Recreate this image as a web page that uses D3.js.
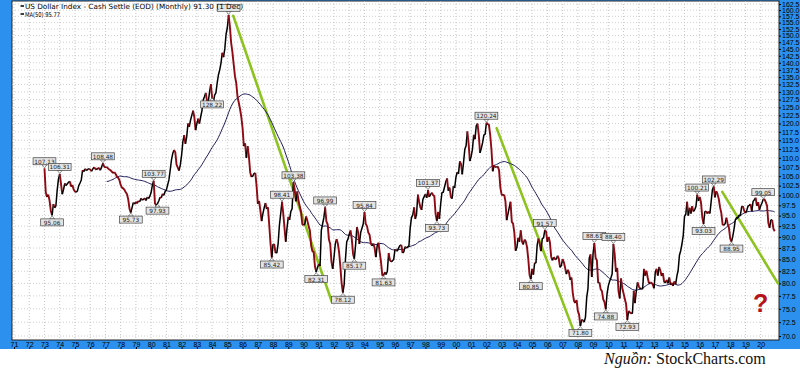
<!DOCTYPE html>
<html>
<head>
<meta charset="utf-8">
<script src="https://cdn.jsdelivr.net/npm/d3@7/dist/d3.min.js"></script>
<style>
body { margin: 0; background: #fff; }
svg { display: block; font-family: "DejaVu Sans", Verdana, sans-serif; }
</style>
</head>
<body>
<svg id="chart" width="800" height="370"></svg>
<script>
// monthly closes, first value = Jan 1973
var firstYear = 1973;
var dxy70s = [
  107.13, 100.8, 99.6, 100.2, 98.7, 96.2, 95.06, 97.8, 96.9, 97.4, 101.3, 104.2,
  105.6, 103.0, 100.3, 101.5, 103.1, 102.5, 103.0, 103.4, 103.6, 102.3, 102.7, 101.5,
  101.0, 100.8, 101.2, 102.5, 103.2, 104.0, 106.6, 106.2, 107.0, 106.5, 106.8, 107.0,
  106.8, 106.3, 106.9, 107.4, 107.0, 106.7, 107.2, 107.1, 106.6, 107.5, 108.48, 107.6,
  107.3, 107.5, 107.1, 106.8, 106.6, 106.2, 105.8, 106.1, 105.6, 104.9, 104.6, 104.0,
  102.7, 102.0, 101.8, 101.4, 100.8, 100.3, 98.9, 96.6, 95.73, 97.0, 98.2, 97.8,
  98.4, 98.0, 98.6, 98.4, 99.3, 98.8, 99.0, 99.3, 98.7, 99.6, 99.2, 99.8
];
var dxy80s = [
  100.8, 102.7, 103.77, 98.0, 97.5, 97.93, 98.6, 99.5, 99.4, 100.4, 100.0, 101.0,
  101.4, 102.7, 104.0, 106.6, 109.4, 111.2, 112.2, 111.6, 108.1, 107.3, 106.5, 108.1,
  110.8, 114.7, 116.5, 114.0, 116.0, 120.0, 119.0, 121.0, 122.5, 124.0, 122.0, 118.0,
  120.0, 121.5, 120.0, 122.0, 124.0, 127.4, 128.5, 129.7, 127.0, 126.9, 130.0, 132.6,
  128.22, 126.5, 129.0, 129.7, 133.0, 135.8, 137.5, 139.9, 143.6, 142.0, 145.0, 150.5,
  153.0, 158.1, 153.5, 147.2, 143.8, 139.4, 135.3, 133.0, 128.5, 126.5, 124.5, 122.0,
  118.6, 113.3, 114.1, 110.0, 113.3, 110.3, 106.0, 104.8, 105.0, 105.7, 105.9, 102.5,
  97.9, 98.6, 96.3, 93.7, 95.5, 96.9, 98.1, 96.6, 97.0, 92.7, 88.5, 85.42,
  88.4, 88.2, 86.4, 86.5, 88.5, 92.7, 95.4, 98.41, 95.6, 92.1, 88.9, 92.1,
  94.7, 94.0, 96.0, 96.7, 103.38, 101.6, 98.5, 101.0, 98.7, 97.3, 96.0, 93.0
];
var dxy90s = [
  92.7, 93.0, 94.8, 93.8, 92.5, 91.5, 88.0, 86.8, 86.6, 83.5, 82.31, 83.3,
  84.0, 83.6, 91.5, 93.0, 94.5, 96.99, 93.6, 92.9, 89.4, 88.4, 84.5, 83.0,
  85.5, 88.4, 89.5, 88.5, 86.6, 83.5, 80.0, 78.12, 79.8, 85.0, 88.9, 89.5,
  90.6, 91.5, 89.5, 86.2, 85.17, 88.2, 92.3, 91.0, 88.4, 91.0, 92.0, 93.0,
  95.84, 93.0, 92.5, 91.0, 90.5, 88.5, 88.0, 88.5, 87.5, 85.5, 88.0, 88.7,
  86.5, 84.5, 81.7, 81.63, 82.3, 81.8, 82.5, 86.4, 84.9, 84.5, 84.7, 85.0,
  87.2, 86.9, 86.9, 87.6, 88.1, 88.2, 86.4, 86.7, 87.8, 87.5, 87.7, 88.0,
  92.1, 94.5, 95.1, 97.0, 94.2, 95.4, 100.2, 98.4, 97.0, 96.4, 99.0, 99.7,
  100.3, 99.4, 101.37, 99.6, 100.2, 100.7, 100.1, 99.8, 95.4, 93.73, 95.9, 94.2,
  97.9, 100.7, 100.8, 102.1, 103.5, 104.4, 101.2, 102.0, 99.6, 99.2, 102.4, 101.9
];
var dxy00s = [
  104.7, 106.1, 105.6, 109.0, 108.3, 105.5, 108.7, 112.4, 113.4, 117.6, 114.0, 109.1,
  110.4, 112.4, 116.6, 115.3, 119.3, 120.0, 116.5, 111.4, 112.7, 114.3, 116.5, 116.8,
  120.24, 119.8, 119.6, 116.5, 112.2, 106.3, 107.8, 107.5, 107.4, 107.6, 106.5, 102.0,
  100.2, 100.0, 100.2, 98.5, 93.9, 95.4, 97.0, 98.4, 93.5, 93.1, 91.0, 86.9,
  87.6, 89.8, 88.9, 91.5, 89.0, 88.3, 89.4, 89.0, 87.7, 85.0, 81.7, 80.85,
  83.0, 81.8, 84.3, 84.2, 88.2, 89.6, 88.4, 86.8, 89.6, 89.8, 91.57, 91.2,
  88.9, 90.0, 88.8, 85.6, 84.8, 85.5, 85.1, 85.0, 85.8, 85.2, 83.3, 83.7,
  85.1, 84.4, 83.2, 81.9, 82.8, 82.3, 80.7, 81.2, 78.1, 76.5, 76.1, 76.7,
  74.6, 73.9, 71.80, 72.9, 72.9, 72.5, 73.4, 77.2, 79.0, 85.3, 86.1, 81.3,
  86.3, 88.61, 85.3, 84.8, 80.1, 80.2, 78.8, 78.4, 76.8, 76.3, 74.88, 77.9
];
var dxy10s = [
  79.5, 80.4, 81.1, 81.9, 88.40, 86.2, 82.4, 83.2, 78.5, 77.0, 81.0, 79.0,
  78.0, 76.9, 75.9, 72.93, 74.6, 74.3, 74.1, 74.2, 78.5, 76.1, 78.4, 80.2,
  79.4, 78.9, 79.0, 78.8, 83.0, 81.6, 82.6, 81.2, 80.0, 80.2, 80.1, 79.8,
  79.0, 82.3, 83.0, 81.6, 83.4, 82.6, 81.5, 82.1, 80.2, 80.2, 80.7, 80.0,
  81.2, 79.7, 80.1, 79.5, 80.4, 79.8, 81.5, 82.7, 85.9, 86.9, 88.4, 90.3,
  94.8, 95.3, 98.4, 95.0, 96.9, 95.5, 97.3, 96.0, 96.4, 97.2, 100.21, 98.6,
  99.6, 98.2, 94.6, 93.03, 95.9, 96.1, 95.5, 96.0, 95.5, 98.5, 101.5, 102.29,
  99.5, 101.1, 100.3, 99.1, 97.0, 95.6, 92.9, 92.7, 93.1, 94.5, 93.0, 92.1,
  89.6, 88.95, 90.1, 91.8, 94.0, 94.5, 94.5, 95.1, 95.1, 97.1, 97.3, 96.2,
  95.6, 96.2, 97.3, 97.5, 97.8, 96.1, 98.5, 98.9, 99.4, 97.4, 98.3, 96.4,
  97.4, 98.1, 99.05, 99.0, 98.3, 97.4, 93.3, 92.1, 93.9, 94.0, 91.9, 91.3
];

// price labels: year, month, text, side ("" text = box hidden under the title)
var peakLabels = [
  [1973, 1, "107.13", "up"], [1973, 7, "95.06", "down"], [1974, 1, "106.31", "up"],
  [1976, 11, "108.48", "up"], [1978, 9, "95.73", "down"], [1980, 3, "103.77", "up"],
  [1980, 6, "97.93", "down"], [1984, 1, "128.22", "down"], [1985, 2, "", "up"],
  [1987, 12, "85.42", "down"], [1988, 8, "98.41", "up"], [1989, 5, "103.38", "up"],
  [1990, 11, "82.31", "down"], [1991, 6, "96.99", "up"], [1992, 8, "78.12", "down"],
  [1993, 5, "85.17", "down"], [1994, 1, "95.84", "up"], [1995, 4, "81.63", "down"],
  [1998, 3, "101.37", "up"], [1998, 10, "93.73", "down"], [2002, 1, "120.24", "up"],
  [2004, 12, "80.85", "down"], [2005, 11, "91.57", "up"], [2008, 3, "71.80", "down"],
  [2009, 2, "88.61", "up"], [2009, 11, "74.88", "down"], [2010, 5, "88.40", "up"],
  [2011, 4, "72.93", "down"], [2015, 11, "100.21", "up"], [2016, 4, "93.03", "down"],
  [2016, 12, "102.29", "up"], [2018, 2, "88.95", "down"], [2020, 3, "99.05", "up"]
];

// hand drawn trend lines: [start year, start value, end year, end value]
var trendLines = [
  [1985.39, 157.7, 1991.85, 76.4],
  [2002.67, 118.6, 2007.70, 71.1],
  [2017.48, 100.9, 2021.13, 80.0]
];

var yearTicks = [1971, 1972, 1973, 1974, 1975, 1976, 1977, 1978, 1979, 1980,
  1981, 1982, 1983, 1984, 1985, 1986, 1987, 1988, 1989, 1990,
  1991, 1992, 1993, 1994, 1995, 1996, 1997, 1998, 1999, 2000,
  2001, 2002, 2003, 2004, 2005, 2006, 2007, 2008, 2009, 2010,
  2011, 2012, 2013, 2014, 2015, 2016, 2017, 2018, 2019, 2020];
var priceTicks = [70, 72.5, 75, 77.5, 80, 82.5, 85, 87.5, 90, 92.5, 95, 97.5,
  100, 102.5, 105, 107.5, 110, 112.5, 115, 117.5, 120, 122.5, 125, 127.5,
  130, 132.5, 135, 137.5, 140, 142.5, 145, 147.5, 150, 152.5, 155, 157.5, 160, 162.5];

var titleText = "US Dollar Index - Cash Settle (EOD) (Monthly) 91.30 (1 Dec)";
var maText = "MA(50) 95.77";
var maPeriod = 50;

var blue = "#2b90ee";
var svg = d3.select("#chart");
var plot = {left: 12, right: 779, top: 1, bottom: 340};

var x = d3.scaleLinear().domain([1971, 2020]).range([14, 760.7]);
var y = d3.scaleLog().domain([70, 162.5]).range([336, 4]);

var closes = dxy70s.concat(dxy80s, dxy90s, dxy00s, dxy10s);
var pts = closes.map(function(v, i) { return {t: firstYear + i / 12, v: v}; });

var ma = [];
for (var i = maPeriod - 1; i < pts.length; i++) {
  ma.push({t: pts[i].t, v: d3.mean(pts.slice(i - maPeriod + 1, i + 1), function(d) { return d.v; })});
}

// blue frame
svg.append("rect").attr("x", 0).attr("y", 0).attr("width", 800).attr("height", 349).attr("fill", blue);
svg.append("rect").attr("x", plot.left).attr("y", plot.top)
  .attr("width", plot.right - plot.left).attr("height", plot.bottom - plot.top)
  .attr("fill", "#fff").attr("stroke", "#222").attr("stroke-width", 1);

svg.append("clipPath").attr("id", "clip").append("rect")
  .attr("x", plot.left).attr("y", plot.top)
  .attr("width", plot.right - plot.left).attr("height", plot.bottom - plot.top);

// grid
var grid = svg.append("g").attr("clip-path", "url(#clip)");
grid.selectAll("line.vg").data(yearTicks).join("line")
  .attr("x1", function(d) { return x(d); }).attr("x2", function(d) { return x(d); })
  .attr("y1", plot.top).attr("y2", plot.bottom)
  .attr("stroke", "#b8b8b8").attr("stroke-width", 0.8).attr("stroke-dasharray", "1,2");
grid.selectAll("line.hg").data(priceTicks).join("line")
  .attr("x1", plot.left).attr("x2", plot.right)
  .attr("y1", function(d) { return y(d); }).attr("y2", function(d) { return y(d); })
  .attr("stroke", "#c4c4c4").attr("stroke-width", 0.8).attr("stroke-dasharray", "1,2");

// axes
var yAxis = svg.append("g").attr("transform", "translate(" + plot.right + ",0)")
  .call(d3.axisRight(y).tickValues(priceTicks).tickFormat(d3.format(".1f")).tickSize(2).tickPadding(1));
yAxis.select(".domain").remove();
yAxis.selectAll("text").attr("font-size", 7).attr("fill", "#000").attr("font-family", "Liberation Sans, Arial, sans-serif");

var xAxis = svg.append("g").attr("transform", "translate(0," + plot.bottom + ")")
  .call(d3.axisBottom(x).tickValues(yearTicks).tickFormat(function(d) { return String(d).slice(2); }).tickSize(0).tickPadding(2));
xAxis.select(".domain").remove();
xAxis.selectAll("text").attr("font-size", 7).attr("fill", "#000").attr("font-family", "Liberation Sans, Arial, sans-serif");
xAxis.selectAll(".tick").append("line").attr("y1", 7).attr("y2", 9).attr("stroke", "#000");

var lines = svg.append("g").attr("clip-path", "url(#clip)");

// trend lines
lines.selectAll("line.trend").data(trendLines).join("line")
  .attr("x1", function(d) { return x(d[0]); }).attr("y1", function(d) { return y(d[1]); })
  .attr("x2", function(d) { return x(d[2]); }).attr("y2", function(d) { return y(d[3]); })
  .attr("stroke", "#8cc31e").attr("stroke-width", 2.6).attr("stroke-linecap", "round");

// moving average
lines.append("path").datum(ma)
  .attr("d", d3.line().x(function(d) { return x(d.t); }).y(function(d) { return y(d.v); }))
  .attr("fill", "none").attr("stroke", "#1c1c5a").attr("stroke-width", 1);

// price: black rising, red falling
var runs = [];
for (var k = 1; k < pts.length; k++) {
  var up = pts[k].v >= pts[k - 1].v;
  var last = runs[runs.length - 1];
  if (last && last.up === up) last.pts.push(pts[k]);
  else runs.push({up: up, pts: [pts[k - 1], pts[k]]});
}
var priceLine = d3.line().x(function(d) { return x(d.t); }).y(function(d) { return y(d.v); });
lines.selectAll("path.price").data(runs).join("path")
  .attr("d", function(d) { return priceLine(d.pts); })
  .attr("fill", "none")
  .attr("stroke", function(d) { return d.up ? "#000" : "#8e0a14"; })
  .attr("stroke-width", function(d) { return d.up ? 1.5 : 1.9; })
  .attr("stroke-linejoin", "round");

// value labels
var lab = svg.append("g").selectAll("g").data(peakLabels).join("g")
  .attr("transform", function(d) {
    var idx = (d[0] - firstYear) * 12 + d[1] - 1;
    return "translate(" + x(pts[idx].t) + "," + y(pts[idx].v) + ")";
  });
lab.append("path")
  .attr("d", function(d) { return d[3] === "up" ? "M-2.5,-3.5L2.5,-3.5L0,-0.5Z" : "M-2.5,3.5L2.5,3.5L0,0.5Z"; })
  .attr("fill", "#fff").attr("stroke", "#444").attr("stroke-width", 0.6);
lab.append("rect")
  .attr("x", function(d) { return -Math.max(d[2].length, 6) * 1.65 - 1.5; })
  .attr("y", function(d) { return d[3] === "up" ? -10.5 : 3.5; })
  .attr("width", function(d) { return Math.max(d[2].length, 6) * 3.3 + 3; })
  .attr("height", 7)
  .attr("fill", "#e4e4e4").attr("stroke", "#444").attr("stroke-width", 0.7);
lab.filter(function(d) { return d[2] !== ""; }).append("text")
  .attr("y", function(d) { return d[3] === "up" ? -4.6 : 9.4; })
  .attr("text-anchor", "middle").attr("font-size", 5.8).attr("fill", "#222")
  .text(function(d) { return d[2]; });

// legend / title
svg.append("line").attr("x1", 20.5).attr("x2", 24).attr("y1", 6).attr("y2", 6).attr("stroke", "#000").attr("stroke-width", 1.5);
svg.append("text").attr("x", 25).attr("y", 8.6).attr("font-size", 7.2).attr("fill", "#000")
  .attr("textLength", 218).attr("lengthAdjust", "spacingAndGlyphs").text(titleText);
svg.append("line").attr("x1", 20.5).attr("x2", 24).attr("y1", 14).attr("y2", 14).attr("stroke", "#000").attr("stroke-width", 1.5);
svg.append("text").attr("x", 25).attr("y", 16.6).attr("font-size", 6.6).attr("fill", "#000")
  .attr("textLength", 35).attr("lengthAdjust", "spacingAndGlyphs").text(maText);

// question mark
svg.append("text").attr("x", x(2020)).attr("y", y(74.3))
  .attr("text-anchor", "middle").attr("font-size", 25).attr("font-weight", "bold")
  .attr("font-family", "Liberation Sans, Arial, sans-serif").attr("fill", "#b5121b").text("?");

// source
var src = svg.append("text").attr("x", 604).attr("y", 363.5).attr("font-family", "Liberation Serif, Times New Roman, serif").attr("font-size", 16).attr("fill", "#111");
src.append("tspan").attr("font-style", "italic").text("Nguồn: ");
src.append("tspan").text("StockCharts.com");
</script>
</body>
</html>
